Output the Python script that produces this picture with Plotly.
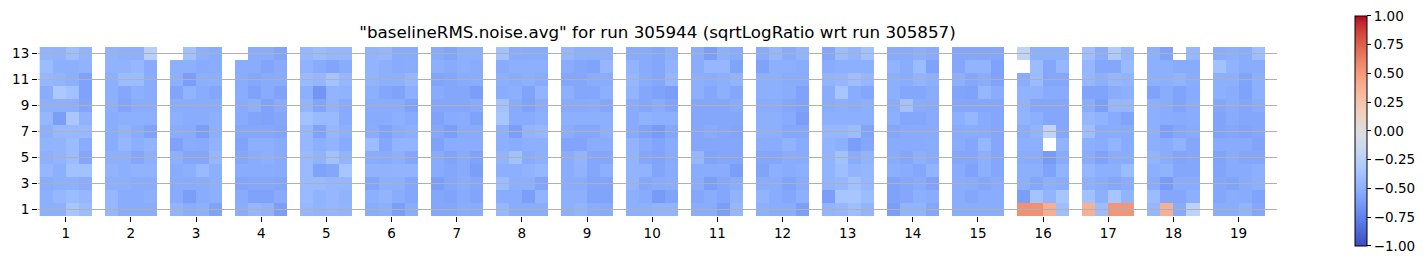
import numpy as np
import plotly.graph_objects as go

# ---- data: each group = 13 rows (row 13 at top ... row 1 at bottom) x 4 sub-columns ----
N = None
group_01 = [[-0.47,-0.48,-0.40,-0.47],[-0.42,-0.50,-0.50,-0.48],[-0.45,-0.47,-0.50,-0.58],[-0.52,-0.32,-0.38,-0.58],
            [-0.50,-0.50,-0.50,-0.56],[-0.45,-0.60,-0.33,-0.48],[-0.50,-0.44,-0.44,-0.44],[-0.47,-0.47,-0.42,-0.52],
            [-0.50,-0.47,-0.42,-0.55],[-0.45,-0.50,-0.38,-0.38],[-0.52,-0.50,-0.50,-0.52],[-0.50,-0.45,-0.42,-0.45],
            [-0.50,-0.50,-0.35,-0.42]]
group_02 = [[-0.48,-0.50,-0.50,-0.25],[-0.48,-0.48,-0.45,-0.53],[-0.50,-0.42,-0.42,-0.52],[-0.50,-0.55,-0.50,-0.52],
            [-0.50,-0.56,-0.52,-0.52],[-0.52,-0.50,-0.50,-0.50],[-0.52,-0.47,-0.52,-0.58],[-0.52,-0.45,-0.50,-0.47],
            [-0.50,-0.50,-0.55,-0.50],[-0.47,-0.50,-0.48,-0.48],[-0.50,-0.50,-0.52,-0.52],[-0.45,-0.52,-0.52,-0.50],
            [-0.45,-0.52,-0.52,-0.52]]
group_03 = [[N,-0.38,-0.50,-0.52],[-0.50,-0.50,-0.53,-0.52],[-0.50,-0.60,-0.50,-0.50],[-0.56,-0.47,-0.52,-0.55],
            [-0.52,-0.52,-0.52,-0.52],[-0.50,-0.52,-0.52,-0.50],[-0.52,-0.53,-0.60,-0.50],[-0.58,-0.52,-0.53,-0.48],
            [-0.50,-0.55,-0.55,-0.45],[-0.52,-0.50,-0.43,-0.50],[-0.53,-0.53,-0.52,-0.50],[-0.53,-0.60,-0.52,-0.50],
            [-0.47,-0.52,-0.50,-0.58]]
group_04 = [[N,-0.52,-0.52,-0.56],[-0.52,-0.52,-0.56,-0.53],[-0.52,-0.55,-0.53,-0.52],[-0.52,-0.58,-0.53,-0.58],
            [-0.53,-0.50,-0.58,-0.53],[-0.53,-0.56,-0.58,-0.55],[-0.55,-0.55,-0.55,-0.56],[-0.57,-0.50,-0.50,-0.53],
            [-0.55,-0.52,-0.50,-0.53],[-0.52,-0.52,-0.52,-0.53],[-0.56,-0.55,-0.55,-0.56],[-0.53,-0.58,-0.58,-0.53],
            [-0.52,-0.45,-0.48,-0.60]]
group_05 = [[-0.45,-0.42,-0.45,-0.45],[-0.48,-0.53,-0.56,-0.52],[-0.43,-0.45,-0.37,-0.45],[-0.50,-0.65,-0.47,-0.48],
            [-0.47,-0.56,-0.48,-0.53],[-0.38,-0.43,-0.43,-0.53],[-0.45,-0.58,-0.45,-0.50],[-0.45,-0.50,-0.47,-0.53],
            [-0.43,-0.48,-0.38,-0.47],[-0.43,-0.58,-0.55,-0.35],[-0.43,-0.43,-0.45,-0.45],[-0.43,-0.48,-0.45,-0.48],
            [-0.45,-0.47,-0.45,-0.47]]
group_06 = [[-0.47,-0.45,-0.53,-0.53],[-0.47,-0.50,-0.53,-0.52],[-0.47,-0.50,-0.50,-0.45],[-0.50,-0.55,-0.58,-0.50],
            [-0.52,-0.52,-0.52,-0.58],[-0.53,-0.53,-0.50,-0.53],[-0.52,-0.58,-0.52,-0.50],[-0.42,-0.55,-0.47,-0.47],
            [-0.52,-0.53,-0.50,-0.55],[-0.48,-0.48,-0.47,-0.47],[-0.56,-0.50,-0.50,-0.55],[-0.50,-0.47,-0.52,-0.55],
            [-0.52,-0.50,-0.60,-0.52]]
group_07 = [[-0.53,-0.56,-0.50,-0.50],[-0.50,-0.53,-0.50,-0.52],[-0.56,-0.55,-0.53,-0.52],[-0.53,-0.55,-0.55,-0.60],
            [-0.55,-0.55,-0.55,-0.53],[-0.58,-0.53,-0.52,-0.58],[-0.55,-0.60,-0.53,-0.53],[-0.58,-0.52,-0.52,-0.52],
            [-0.53,-0.57,-0.53,-0.58],[-0.53,-0.55,-0.53,-0.60],[-0.60,-0.55,-0.52,-0.55],[-0.55,-0.57,-0.53,-0.56],
            [-0.55,-0.55,-0.52,-0.53]]
group_08 = [[-0.38,-0.52,-0.53,-0.53],[-0.53,-0.50,-0.50,-0.50],[-0.50,-0.52,-0.50,-0.53],[-0.52,-0.50,-0.57,-0.47],
            [-0.38,-0.53,-0.58,-0.52],[-0.35,-0.53,-0.53,-0.50],[-0.50,-0.60,-0.47,-0.45],[-0.50,-0.52,-0.50,-0.50],
            [-0.47,-0.38,-0.53,-0.50],[-0.50,-0.50,-0.48,-0.45],[-0.42,-0.50,-0.50,-0.56],[-0.52,-0.52,-0.60,-0.47],
            [-0.45,-0.52,-0.52,-0.52]]
group_09 = [[-0.45,-0.50,-0.50,-0.50],[-0.52,-0.55,-0.57,-0.45],[-0.55,-0.55,-0.52,-0.52],[-0.50,-0.55,-0.55,-0.50],
            [-0.53,-0.53,-0.52,-0.55],[-0.50,-0.50,-0.50,-0.50],[-0.52,-0.55,-0.55,-0.50],[-0.56,-0.56,-0.52,-0.52],
            [-0.52,-0.47,-0.55,-0.55],[-0.52,-0.48,-0.55,-0.50],[-0.52,-0.52,-0.56,-0.56],[-0.50,-0.50,-0.57,-0.57],
            [-0.50,-0.47,-0.52,-0.53]]
group_10 = [[-0.53,-0.53,-0.55,-0.50],[-0.47,-0.53,-0.55,-0.48],[-0.45,-0.52,-0.55,-0.45],[-0.47,-0.55,-0.58,-0.60],
            [-0.53,-0.55,-0.52,-0.56],[-0.53,-0.48,-0.50,-0.50],[-0.53,-0.58,-0.62,-0.55],[-0.47,-0.53,-0.56,-0.52],
            [-0.47,-0.55,-0.57,-0.53],[-0.47,-0.48,-0.56,-0.52],[-0.47,-0.55,-0.53,-0.52],[-0.50,-0.53,-0.62,-0.57],
            [-0.50,-0.50,-0.47,-0.47]]
group_11 = [[-0.52,-0.60,-0.50,-0.53],[-0.52,-0.45,-0.45,-0.57],[-0.50,-0.52,-0.50,-0.47],[-0.50,-0.55,-0.50,-0.55],
            [-0.55,-0.55,-0.55,-0.53],[-0.55,-0.55,-0.55,-0.55],[-0.55,-0.53,-0.55,-0.56],[-0.55,-0.55,-0.55,-0.55],
            [-0.45,-0.57,-0.55,-0.55],[-0.52,-0.52,-0.52,-0.60],[-0.52,-0.60,-0.55,-0.52],[-0.55,-0.52,-0.55,-0.48],
            [-0.52,-0.52,-0.60,-0.45]]
group_12 = [[-0.53,-0.45,-0.53,-0.47],[-0.58,-0.50,-0.50,-0.52],[-0.50,-0.50,-0.53,-0.53],[-0.50,-0.50,-0.52,-0.58],
            [-0.52,-0.52,-0.55,-0.58],[-0.50,-0.50,-0.53,-0.60],[-0.50,-0.50,-0.55,-0.55],[-0.52,-0.53,-0.48,-0.53],
            [-0.55,-0.55,-0.52,-0.53],[-0.57,-0.50,-0.52,-0.50],[-0.52,-0.52,-0.57,-0.53],[-0.47,-0.52,-0.55,-0.50],
            [-0.50,-0.52,-0.52,-0.60]]
group_13 = [[-0.55,-0.42,-0.47,-0.38],[-0.52,-0.50,-0.50,-0.50],[-0.47,-0.45,-0.40,-0.45],[-0.52,-0.35,-0.52,-0.55],
            [-0.52,-0.50,-0.52,-0.50],[-0.50,-0.50,-0.50,-0.50],[-0.45,-0.45,-0.42,-0.57],[-0.47,-0.50,-0.60,-0.55],
            [-0.47,-0.38,-0.52,-0.47],[-0.47,-0.40,-0.47,-0.45],[-0.47,-0.45,-0.38,-0.45],[-0.60,-0.35,-0.35,-0.42],
            [-0.47,-0.45,-0.40,-0.47]]
group_14 = [[-0.53,-0.53,-0.50,-0.53],[-0.47,-0.52,-0.42,-0.58],[-0.50,-0.52,-0.47,-0.50],[-0.50,-0.55,-0.55,-0.52],
            [-0.52,-0.38,-0.52,-0.53],[-0.50,-0.55,-0.55,-0.53],[-0.55,-0.53,-0.53,-0.53],[-0.53,-0.53,-0.53,-0.52],
            [-0.52,-0.55,-0.50,-0.53],[-0.50,-0.52,-0.55,-0.47],[-0.58,-0.55,-0.53,-0.58],[-0.58,-0.55,-0.50,-0.52],
            [-0.60,-0.47,-0.47,-0.55]]
group_15 = [[-0.55,-0.55,-0.55,-0.55],[-0.55,-0.47,-0.47,-0.58],[-0.50,-0.55,-0.52,-0.58],[-0.56,-0.58,-0.45,-0.52],
            [-0.55,-0.55,-0.55,-0.55],[-0.50,-0.45,-0.53,-0.55],[-0.53,-0.52,-0.53,-0.55],[-0.52,-0.55,-0.45,-0.55],
            [-0.55,-0.55,-0.50,-0.55],[-0.53,-0.58,-0.50,-0.55],[-0.52,-0.53,-0.55,-0.53],[-0.52,-0.55,-0.52,-0.52],
            [-0.52,-0.52,-0.52,-0.52]]
group_16 = [[-0.20,-0.50,-0.50,-0.50],[N,-0.42,-0.55,-0.45],[-0.52,-0.42,-0.55,-0.55],[-0.48,-0.48,-0.53,-0.53],
            [-0.48,-0.55,-0.55,-0.55],[-0.47,-0.50,-0.55,-0.55],[-0.52,-0.47,-0.20,-0.55],[-0.50,-0.50,N,-0.48],
            [-0.52,-0.52,-0.62,-0.53],[-0.50,-0.50,-0.58,-0.47],[-0.50,-0.55,-0.50,-0.52],[-0.60,-0.37,-0.47,-0.35],
            [0.55,0.55,0.40,-0.40]]
group_17 = [[-0.40,-0.52,-0.30,-0.45],[-0.45,-0.55,-0.55,-0.43],[-0.45,-0.50,-0.45,-0.47],[-0.57,-0.57,-0.52,-0.50],
            [-0.52,-0.60,-0.45,-0.45],[-0.45,-0.48,-0.53,-0.57],[-0.40,-0.53,-0.52,-0.53],[-0.50,-0.52,-0.47,-0.53],
            [-0.52,-0.58,-0.52,-0.52],[-0.45,-0.50,-0.50,-0.42],[-0.50,-0.52,-0.55,-0.52],[-0.38,-0.50,-0.35,-0.47],
            [0.38,-0.42,0.52,0.52]]
group_18 = [[-0.50,-0.58,N,-0.45],[-0.50,-0.50,-0.53,-0.53],[-0.50,-0.50,-0.47,-0.52],[-0.58,-0.52,-0.57,-0.53],
            [-0.50,-0.52,-0.57,-0.52],[-0.50,-0.52,-0.53,-0.52],[-0.50,-0.60,-0.55,-0.53],[-0.50,-0.52,-0.48,-0.55],
            [-0.47,-0.52,-0.56,-0.55],[-0.50,-0.48,-0.55,-0.55],[-0.52,-0.62,-0.53,-0.53],[-0.42,-0.55,-0.55,-0.50],
            [-0.45,0.38,-0.53,-0.22]]
group_19 = [[-0.52,-0.50,-0.52,-0.40],[-0.38,-0.48,-0.52,-0.52],[-0.50,-0.50,-0.57,-0.50],[-0.50,-0.52,-0.58,-0.50],
            [-0.55,-0.52,-0.55,-0.52],[-0.57,-0.53,-0.55,-0.55],[-0.57,-0.55,-0.57,-0.55],[-0.53,-0.53,-0.53,-0.56],
            [-0.57,-0.53,-0.55,-0.55],[-0.56,-0.53,-0.53,-0.50],[-0.55,-0.57,-0.53,-0.50],[-0.55,-0.52,-0.53,-0.57],
            [-0.52,-0.52,-0.47,-0.55]]

groups = [group_01, group_02, group_03, group_04, group_05, group_06, group_07, group_08, group_09, group_10,
          group_11, group_12, group_13, group_14, group_15, group_16, group_17, group_18, group_19]
x_ticks = list(range(1, 20))
y_ticks = [1, 3, 5, 7, 9, 11, 13]
rows = list(range(1, 14))
cb_ticks = [-1.0, -0.75, -0.5, -0.25, 0.0, 0.25, 0.5, 0.75, 1.0]
title = '"baselineRMS.noise.avg" for run 305944 (sqrtLogRatio wrt run 305857)'

# matplotlib "coolwarm"
coolwarm_rgb = [(59,76,192),(68,90,204),(77,104,215),(87,117,225),(98,130,234),(108,142,241),(119,154,247),
                (130,165,251),(141,176,254),(152,185,255),(163,194,255),(174,201,253),(184,208,249),(194,213,244),
                (204,217,238),(213,219,230),(221,221,221),(229,216,209),(236,211,197),(241,204,184),(245,196,173),
                (247,187,160),(247,177,148),(247,166,135),(244,154,123),(241,141,111),(236,127,99),(229,112,88),
                (222,96,77),(213,80,66),(203,62,56),(192,40,47),(180,4,38)]
n = len(coolwarm_rgb)
colorscale = [[i / (n - 1), f"rgb{c}"] for i, c in enumerate(coolwarm_rgb)]

# ---- build matrix: 4 sub-columns per group + 1 blank column as gap ----
sub = 4
width = 0.2
ncol = len(groups) * (sub + 1)
z = np.full((len(rows), ncol), np.nan)
for gi, g in enumerate(groups):
    arr = np.array([[np.nan if v is None else v for v in r] for r in g], dtype=float)[::-1]  # row 1 first
    z[:, gi * (sub + 1): gi * (sub + 1) + sub] = arr
x0 = x_ticks[0] - (sub - 1) / 2 * width

fig = go.Figure()
fig.add_trace(go.Heatmap(
    z=z, x0=x0, dx=width, y=rows, zmin=-1, zmax=1, colorscale=colorscale, hoverongaps=False,
    colorbar=dict(
        thickness=12, thicknessmode="pixels", len=230, lenmode="pixels",
        x=1.0633, xanchor="left", y=0.503, yanchor="middle", xpad=0, ypad=0,
        outlinewidth=1, outlinecolor="black",
        tickvals=cb_ticks, ticktext=[f"{v:.2f}".replace("-", "\u2212") for v in cb_ticks],
        ticks="outside", ticklen=4, tickwidth=1, tickcolor="black",
        tickfont=dict(family="DejaVu Sans", size=13.5, color="black"),
    ),
))

shapes = [dict(type="line", xref="paper", x0=0, x1=1, yref="y", y0=v, y1=v,
               line=dict(color="#b0b0b0", width=1.1), layer="above") for v in y_ticks]

fig.update_layout(
    width=1428, height=265,
    margin=dict(l=36, r=151, t=47, b=49),
    paper_bgcolor="white", plot_bgcolor="white",
    title=dict(text=title, x=0.5, xanchor="center", xref="paper", y=1 - 32 / 265, yref="container",
               yanchor="middle", font=dict(family="DejaVu Sans", size=16.7, color="black")),
    font=dict(family="DejaVu Sans", color="black"),
    shapes=shapes,
    xaxis=dict(range=[0.574, 19.589], tickvals=x_ticks, ticks="outside", ticklen=5, tickwidth=1,
               tickcolor="black", showgrid=False, zeroline=False, showline=False,
               tickfont=dict(family="DejaVu Sans", size=13.5, color="black")),
    yaxis=dict(range=[0.5, 13.5], tickvals=y_ticks, ticks="outside", ticklen=5, tickwidth=1,
               tickcolor="black", showgrid=False, zeroline=False, showline=False,
               tickfont=dict(family="DejaVu Sans", size=13.5, color="black")),
)

fig.write_html("out.html")
